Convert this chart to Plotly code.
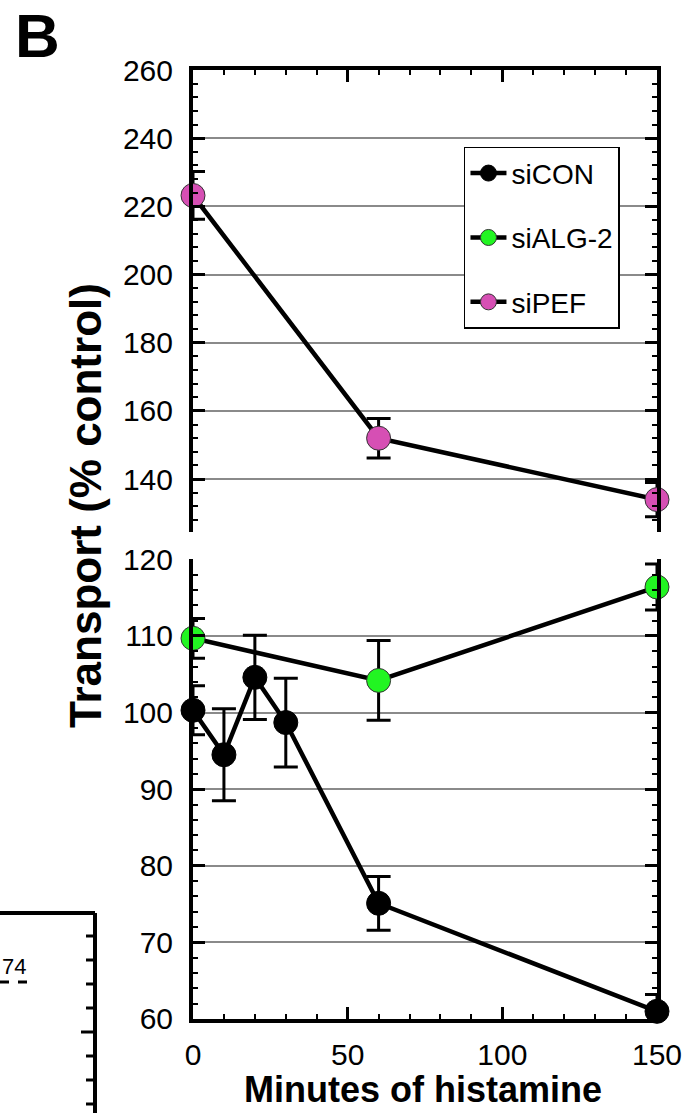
import plotly.graph_objects as go

# ---- data ----
series_names = ["siCON", "siALG-2", "siPEF"]

minutes_con = [0, 10, 20, 30, 60, 150]
si_con = [100.3, 94.5, 104.6, 98.7, 75.1, 61.0]
si_con_err = [3.2, 6.0, 5.5, 5.8, 3.5, 2.2]

minutes_alg = [0, 60, 150]
si_alg2 = [109.7, 104.2, 116.4]
si_alg2_err = [2.6, 5.2, 3.0]

minutes_pef = [0, 60, 150]
si_pef = [223.2, 152.0, 134.0]
si_pef_err = [7.0, 5.8, 5.0]

x_ticks = [0, 50, 100, 150]
upper_ticks = [140, 160, 180, 200, 220, 240, 260]
lower_ticks = [60, 70, 80, 90, 100, 110, 120]

colors = {"siCON": "#000000", "siALG-2": "#22f522", "siPEF": "#d64fb4"}
FONT = "Arial, Liberation Sans, Helvetica, sans-serif"

fig = go.Figure()


def add_series(name, xs, ys, errs, xa, ya):
    fig.add_trace(go.Scatter(
        x=xs, y=ys, name=name, legendgroup=name,
        xaxis=xa, yaxis=ya, mode="lines+markers",
        line=dict(color="black", width=4.5),
        marker=dict(size=24, color=colors[name],
                    line=dict(color="#333333" if name != "siCON" else "black", width=1)),
        error_y=dict(type="data", array=errs, visible=True,
                     color="black", thickness=3, width=12),
        cliponaxis=False,
    ))


add_series("siCON", minutes_con, si_con, si_con_err, "x", "y")
add_series("siALG-2", minutes_alg, si_alg2, si_alg2_err, "x", "y")
add_series("siPEF", minutes_pef, si_pef, si_pef_err, "x2", "y2")

tickfont = dict(family=FONT, size=30, color="black")
minor_x = dict(dtick=10, ticklen=5, tickwidth=2, tickcolor="black", ticks="inside")

fig.update_layout(
    width=689, height=1113,
    margin=dict(l=193, r=32, t=70, b=94, autoexpand=False),
    paper_bgcolor="white", plot_bgcolor="white",
    font=dict(family=FONT, color="black"),
    showlegend=True,
    legend=dict(x=0.584, y=0.919, xanchor="left", yanchor="top",
                bgcolor="white", bordercolor="black", borderwidth=1.5,
                font=dict(family=FONT, size=28, color="black"),
                itemwidth=36,
                tracegroupgap=25, traceorder="grouped"),
    xaxis=dict(domain=[0, 1], anchor="y", range=[0, 150], automargin=False,
               showline=True, linewidth=4, linecolor="black", mirror=False,
               ticks="inside", ticklen=12, tickwidth=3, tickcolor="black",
               tickvals=x_ticks, tickfont=tickfont, ticklabelstandoff=6,
               minor=minor_x, showgrid=False, zeroline=False),
    xaxis2=dict(domain=[0, 1], anchor="y2", range=[0, 150], matches="x", side="top",
                automargin=False,
                showline=True, linewidth=4, linecolor="black",
                ticks="inside", ticklen=12, tickwidth=3, tickcolor="black",
                tickvals=x_ticks, showticklabels=False,
                minor=minor_x, showgrid=False, zeroline=False),
    yaxis=dict(domain=[0, 0.4847], anchor="x", range=[60, 120.05], automargin=False,
               showline=True, linewidth=4, linecolor="black", mirror="allticks",
               ticks="inside", ticklen=12, tickwidth=3, tickcolor="black",
               tickvals=lower_ticks, tickfont=tickfont, ticklabelstandoff=10,
               minor=dict(dtick=2, ticklen=5, tickwidth=2, tickcolor="black", ticks="inside"),
               showgrid=True, gridcolor="#8a8a8a", gridwidth=2, zeroline=False),
    yaxis2=dict(domain=[0.5132, 1], anchor="x2", range=[124.5, 260], automargin=False,
                showline=True, linewidth=4, linecolor="black", mirror="allticks",
                ticks="inside", ticklen=12, tickwidth=3, tickcolor="black",
                tickvals=upper_ticks, tickfont=tickfont, ticklabelstandoff=10,
                minor=dict(dtick=4, ticklen=5, tickwidth=2, tickcolor="black", ticks="inside"),
                showgrid=True, gridcolor="#8a8a8a", gridwidth=2, zeroline=False),
)


def px_x(p):
    return (p - 193) / 464.0


def px_y(p):
    return (1019 - p) / 949.0


# Panel letter, axis titles
fig.add_annotation(text="<b>B</b>", xref="paper", yref="paper",
                   x=px_x(13), y=px_y(35), xanchor="left", yanchor="middle", showarrow=False,
                   font=dict(family=FONT, size=62, color="black"))
fig.add_annotation(text="<b>Transport (% control)</b>", xref="paper", yref="paper",
                   x=px_x(85), y=px_y(506), xanchor="center", yanchor="middle",
                   textangle=-90, showarrow=False,
                   font=dict(family=FONT, size=44, color="black"))
fig.add_annotation(text="<b>Minutes of histamine</b>", xref="paper", yref="paper",
                   x=px_x(423), y=px_y(1089), xanchor="center", yanchor="middle",
                   showarrow=False,
                   font=dict(family=FONT, size=36, color="black"))

# Fragment of the neighbouring panel (bottom-left corner of the image)
frame = dict(color="black", width=4)
fig.add_shape(type="line", xref="paper", yref="paper",
              x0=px_x(-5), x1=px_x(95), y0=px_y(913), y1=px_y(913), line=frame)
fig.add_shape(type="line", xref="paper", yref="paper",
              x0=px_x(95), x1=px_x(95), y0=px_y(913), y1=px_y(1120), line=frame)
for ty in [936, 960, 984, 1008, 1032, 1056, 1080, 1104]:
    ln = 14 if ty == 1032 else 9
    fig.add_shape(type="line", xref="paper", yref="paper",
                  x0=px_x(95 - ln), x1=px_x(95), y0=px_y(ty), y1=px_y(ty),
                  line=dict(color="black", width=3))
fig.add_shape(type="line", xref="paper", yref="paper",
              x0=px_x(0), x1=px_x(28), y0=px_y(982), y1=px_y(982),
              line=dict(color="black", width=3, dash="dash"))
fig.add_annotation(text="74", xref="paper", yref="paper",
                   x=px_x(0), y=px_y(966), xanchor="left", yanchor="middle",
                   showarrow=False, font=dict(family=FONT, size=22, color="black"))

fig.write_html("out.html")
